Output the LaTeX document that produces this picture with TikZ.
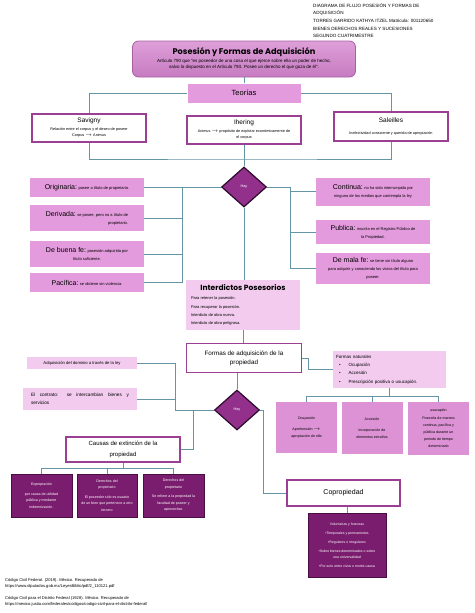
\documentclass[tikz,border=0pt]{standalone}
\usepackage{fontspec}
\setmainfont{Liberation Sans}
\newfontfamily\poppins{Poppins}
\usetikzlibrary{shapes.geometric}

\definecolor{orquidea}{HTML}{E49BDD}
\definecolor{palido}{HTML}{F2CBEE}
\definecolor{medio}{HTML}{DC92D5}
\definecolor{morado}{HTML}{7A1D6E}
\definecolor{moradob}{HTML}{4A0F42}
\definecolor{rombo}{HTML}{93308C}
\definecolor{rombob}{HTML}{2B0B2B}
\definecolor{borde}{HTML}{9A3F92}
\definecolor{conector}{HTML}{6395A6}
\definecolor{tituloA}{HTML}{DE9FD8}
\definecolor{tituloB}{HTML}{C77BC1}
\definecolor{tituloC}{HTML}{A860A3}

\newcommand{\letra}[2]{\fontsize{#1}{#2}\selectfont}

\tikzset{
	conector/.style={draw=conector, line width=0.9pt},
	titulo/.style={rounded corners=6pt, top color=tituloA, bottom color=tituloB, draw=tituloC, line width=0.8pt, minimum width=223pt, minimum height=36pt, align=center, inner sep=1pt, font=\letra{4.5}{6.5}},
	blanca/.style={draw=borde, fill=white, line width=1.1pt, align=center, inner sep=1pt, font=\letra{3.8}{6.5}},
	rosa/.style={fill=orquidea, align=center, inner sep=1pt, font=\letra{4}{8}},
	palido/.style={fill=palido, inner sep=1pt},
	medio/.style={fill=medio, align=center, inner sep=1pt, font=\letra{3.6}{7}, minimum width=61pt},
	oscura/.style={fill=morado, draw=moradob, line width=0.6pt, text=white, align=center, inner sep=1pt, font=\letra{3.6}{6.5}},
	rombo/.style={diamond, fill=rombo, draw=rombob, line width=1.2pt, minimum width=45pt, minimum height=40pt, inner sep=0pt, text=white, font=\letra{3.8}{4}}
}

\begin{document}
\begin{tikzpicture}[x=1pt,y=-1pt]
	\useasboundingbox (0,0) rectangle (474,613);
	% l'en-tête
	\node[anchor=north west, align=left, inner sep=0pt, font=\letra{4.6}{7.7}] (entete) at (313,3) {DIAGRAMA DE FLUJO POSESIÓN Y FORMAS DE\\ADQUISICIÓN\\TORRES GARRIDO KATHYA ITZEL Matricula: 001120650\\BIENES DERECHOS REALES Y SUCESIONES\\SEGUNDO CUATRIMESTRE};
	% le titre
	\node[titulo] (titulo) at (244,59) {{\poppins\bfseries\letra{8.2}{10}Posesión y Formas de Adquisición}\\[1pt]
		Artículo 790 que "es poseedor de una cosa el que ejerce sobre ella un poder de hecho,\\
		salvo lo dispuesto en el Artículo 793. Posee un derecho el que goza de él".};
	% les théories
	\node[rosa, minimum width=113pt, minimum height=19pt, font=\letra{7.5}{8}] (teorias) at (244,93) {Teorías};
	\node[blanca, minimum width=114pt, minimum height=28pt] (savigny) at (89,128) {{\letra{6.5}{8}Savigny}\\[1pt]Relación entre el corpus y el deseo de poseer\\Corpus $\rightarrow$ Animus};
	\node[blanca, minimum width=114pt, minimum height=28pt] (ihering) at (244,130) {{\letra{6.5}{8}Ihering}\\[1pt]Animus $\rightarrow$ propósito de explotar económicamente de\\el corpus};
	\node[blanca, minimum width=114pt, minimum height=29pt] (saleilles) at (391,126.5) {{\letra{6.5}{8}Saleilles}\\[5pt]Inefectividad consciente y querida de apropiación};
	\draw[conector] (titulo.south) -- (teorias.north);
	\draw[conector] (teorias.west) -| (savigny.north);
	\draw[conector] (teorias.east) -| (saleilles.north);
	\coordinate (baseT) at (244,159);
	\draw[conector] (savigny.south) |- (baseT) -| (saleilles.south);
	% le premier losange
	\node[rombo] (hay1) at (244,187) {Hay};
	\draw[conector] (ihering.south) -- (hay1.north);
	% à gauche
	\node[rosa, minimum width=114pt, minimum height=19pt] (originaria) at (87,187.5) {{\letra{7}{8}Originaria:} posee a título de propietario.};
	\node[rosa, minimum width=114pt, minimum height=26pt, align=right] (derivada) at (87,218) {{\letra{7}{8}Derivada:} se posee, pero no a título de\\propietario.};
	\node[rosa, minimum width=114pt, minimum height=26pt] (buenafe) at (87,254) {{\letra{7}{8}De buena fe:} posesión adquirida por\\título suficiente.};
	\node[rosa, minimum width=114pt, minimum height=19pt] (pacifica) at (87,282.5) {{\letra{7}{8}Pacífica:} se obtiene sin violencia.};
	\coordinate (busI) at (182,187);
	\draw[conector] (hay1.west) -- (busI) -- (busI |- pacifica.east) -- (pacifica.east);
	\foreach \n in {originaria,derivada,buenafe}
		\draw[conector] (\n.east) -- (\n.east -| busI);
	% à droite
	\node[rosa, minimum width=114pt, minimum height=28pt] (continua) at (373,191.5) {{\letra{7}{8}Continua:} no ha sido interrumpida por\\ninguno de los medios que contempla la ley};
	\node[rosa, minimum width=114pt, minimum height=24pt] (publica) at (373,232) {{\letra{7}{8}Publica:} inscrita en el Registro Público de\\la Propiedad.};
	\node[rosa, minimum width=114pt, minimum height=31pt] (malafe) at (373,268.5) {{\letra{7}{8}De mala fe:} se tiene sin título alguno\\para adquirir y conociendo los vicios del título para\\poseer.};
	\coordinate (busD) at (290,187);
	\draw[conector] (hay1.east) -- (busD) -- (busD |- malafe.west) -- (malafe.west);
	\foreach \n in {continua,publica}
		\draw[conector] (\n.west) -- (\n.west -| busD);
	% les interdits
	\node[palido, minimum width=114pt, minimum height=50pt, align=left, font=\letra{4}{8.3}] (interdictos) at (243,305) {\makebox[104pt]{\poppins\bfseries\letra{7.5}{9}Interdictos Posesorios}\\[1pt]
		Para retener la posesión.\\Para recuperar la posesión.\\Interdicto de obra nueva.\\Interdicto de obra peligrosa.};
	\node[blanca, minimum width=115pt, minimum height=29pt, font=\letra{6.3}{9.3}] (formas) at (244,358) {Formas de adquisición de la\\propiedad};
	\draw[conector] (hay1.south) -- (hay1.south |- interdictos.north);
	\draw[conector] (interdictos.south) -- (interdictos.south |- formas.north);
	% formes naturelles
	\node[palido, minimum width=113pt, minimum height=37pt, text width=107pt, align=left, font=\letra{4.5}{8.3}] (naturales) at (389.5,369.5) {Formas naturales\\
		\hspace*{3pt}\textbullet\hspace{8pt}Ocupación\\
		\hspace*{3pt}\textbullet\hspace{8pt}Accesión\\
		\hspace*{3pt}\textbullet\hspace{8pt}Prescripción positiva o usucapión.};
	\draw[conector] (formas.east) -- ++(6,0) |- (naturales.west);
	\node[medio, minimum height=51pt] (ocupacion) at (306.5,427.5) {Ocupación\\[4pt]Aprehensión $\rightarrow$\\apropiación de ella};
	\node[medio, minimum height=52pt] (accesion) at (372,428) {Accesión\\[4pt]incorporación de\\elementos extraños};
	\node[medio, minimum height=53pt] (usucapion) at (438.5,428.5) {usucapión\\[1pt]Poseerla de manera\\continua, pacífica y\\pública durante un\\periodo de tiempo\\determinado};
	\draw[conector] (naturales.south) -- ++(0,8) coordinate (busN);
	\draw[conector] (ocupacion.north) |- (busN) -| (usucapion.north);
	\draw[conector] (busN -| accesion.north) -- (accesion.north);
	% le second losange
	\node[rombo] (hay2) at (237,410) {Hay};
	\draw[conector] (hay2.north |- formas.south) -- (hay2.north);
	\node[palido, minimum width=110pt, minimum height=12pt, font=\letra{4.2}{6}] (adquisicion) at (82,363) {Adquisición del dominio a través de la ley};
	\node[palido, minimum width=114pt, minimum height=22pt, text width=98pt, align=justify, font=\letra{4.7}{8}] (contrato) at (80,399) {El contrato: se intercambian bienes y\linebreak servicios};
	\coordinate (busL) at (175,410);
	\coordinate (busC) at (193,410);
	\draw[conector] (adquisicion.east) -| (busL) -- (hay2.west);
	\draw[conector] (contrato.east) -- (contrato.east -| busL);
	% causes d'extinction
	\node[blanca, minimum width=114pt, minimum height=25pt, font=\letra{6}{11}] (causas) at (123,449.5) {Causas de extinción de la\\propiedad};
	\draw[conector] (busC) |- (causas.east);
	\node[oscura, minimum width=61pt, minimum height=43pt] (expropiacion) at (41.5,495.5) {Expropiación\\[3pt]por causa de utilidad\\pública y mediante\\indemnización.};
	\node[oscura, minimum width=60pt, minimum height=43pt] (derechoA) at (107,495.5) {Derechos del\\propietario\\[3pt]El poseedor sólo es usuario\\de un bien que pertenece a otro\\tercero};
	\node[oscura, minimum width=61pt, minimum height=43pt] (derechoB) at (173.5,495.5) {Derechos del\\propietario\\[3pt]Se refiere a la propiedad la\\facultad de poseer y\\aprovechar.};
	\draw[conector] (causas.south) -- ++(0,6) coordinate (busX);
	\draw[conector] (expropiacion.north) |- (busX) -| (derechoB.north);
	\draw[conector] (busX -| derechoA.north) -- (derechoA.north);
	% copropriété
	\node[blanca, minimum width=113pt, minimum height=26pt, font=\letra{7}{8}] (copropiedad) at (343.5,493) {Copropiedad};
	\draw[conector] (hay2.east) -- ++(3,0) |- (copropiedad.west);
	\node[oscura, minimum width=78pt, minimum height=64pt, font=\letra{3.5}{6}] (tipos) at (347,545) {Voluntarias y forzosas\\[3pt]
		\textbullet Temporales y permanentes\\[3pt]
		\textbullet Regulares e irregulares\\[3pt]
		\textbullet Sobre bienes determinados o sobre\\una universalidad\\[3pt]
		\textbullet Por acto entre vivos o mortis causa};
	\draw[conector] (tipos.north |- copropiedad.south) -- (tipos.north);
	% les références
	\node[anchor=north west, align=left, inner sep=0pt, font=\letra{4.1}{6.3}] (refs) at (5,578) {Código Civil Federal. (2019). México. Recuperado de\\
		https://www.diputados.gob.mx/LeyesBiblio/pdf/2\_110121.pdf\\[5.5pt]
		Código Civil para el Distrito Federal (1928). México. Recuperado de\\
		https://mexico.justia.com/federales/codigos/codigo-civil-para-el-distrito-federal/};
\end{tikzpicture}
\end{document}
